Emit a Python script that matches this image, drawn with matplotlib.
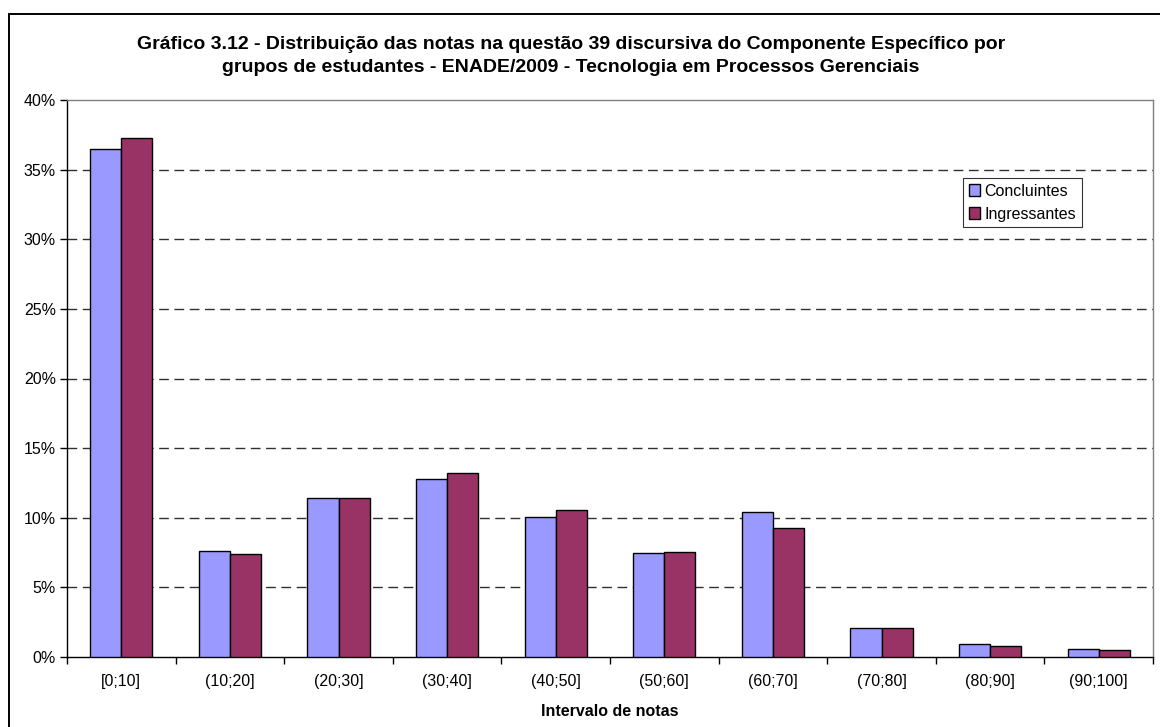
import matplotlib
matplotlib.use("Agg")
import matplotlib.pyplot as plt
from matplotlib.patches import Rectangle
from matplotlib.ticker import FuncFormatter, FixedLocator
import numpy as np

plt.rcParams['font.family'] = ['Liberation Sans', 'DejaVu Sans']
plt.rcParams['lines.scale_dashes'] = False

# notas por intervalo (% de estudantes)
intervalos = ['[0;10]', '(10;20]', '(20;30]', '(30;40]', '(40;50]',
              '(50;60]', '(60;70]', '(70;80]', '(80;90]', '(90;100]']
concluintes = [36.5, 7.6, 11.4, 12.8, 10.05, 7.5, 10.4, 2.1, 0.95, 0.6]
ingressantes = [37.3, 7.4, 11.45, 13.2, 10.55, 7.55, 9.25, 2.05, 0.78, 0.47]
yticks = [0, 5, 10, 15, 20, 25, 30, 35, 40]

titulo = ("Gráfico 3.12 - Distribuição das notas na questão 39 discursiva do Componente Específico por\n"
          "grupos de estudantes - ENADE/2009 - Tecnologia em Processos Gerenciais")

cor_conc = '#9999FF'
cor_ingr = '#993366'

W, H = 1160, 727
fig = plt.figure(figsize=(W / 100, H / 100), dpi=100)
ax = fig.add_axes([67 / W, 1 - 657 / H, (1153 - 67) / W, (657 - 100) / H])

# moldura externa do gráfico
fig.patches.append(Rectangle((9 / W, -0.1), 1.2, 1 - 14 / H + 0.1,
                             transform=fig.transFigure, fill=False,
                             edgecolor='black', linewidth=1.4))

x = np.arange(len(intervalos))
w = 1 / 3.5
ax.bar(x - w / 2, concluintes, w, color=cor_conc, edgecolor='black',
       linewidth=1.0, label='Concluintes', zorder=3)
ax.bar(x + w / 2, ingressantes, w, color=cor_ingr, edgecolor='black',
       linewidth=1.0, label='Ingressantes', zorder=3)

ax.set_xlim(-0.5, len(intervalos) - 0.5)
ax.set_ylim(0, 40)

for v in yticks[1:-1]:
    ax.axhline(v, color='#303030', linewidth=1.0, linestyle=(0, (7, 4)), zorder=1)

ax.set_yticks(yticks)
ax.yaxis.set_major_formatter(FuncFormatter(lambda v, p: '%d%%' % v))
ax.tick_params(axis='y', direction='out', length=5, width=1, labelsize=11.5, pad=3)

ax.set_xticks(x)
ax.set_xticklabels(intervalos)
ax.xaxis.set_minor_locator(FixedLocator(np.arange(-0.5, len(intervalos), 1)))
ax.tick_params(axis='x', which='major', length=0, labelsize=11.5, pad=12)
ax.tick_params(axis='x', which='minor', direction='out', length=5, width=1)

ax.spines['left'].set_color('black')
ax.spines['bottom'].set_color('black')
ax.spines['top'].set_color('#808080')
ax.spines['right'].set_color('#808080')
for s in ax.spines.values():
    s.set_linewidth(1.0)

ax.set_xlabel('Intervalo de notas', fontsize=11.5, fontweight='bold', labelpad=11)

fig.text(571 / W, 1 - 56 / H, titulo, ha='center', va='center',
         fontsize=14, fontweight='bold', linespacing=1.4)

leg = ax.legend(loc='upper left', bbox_to_anchor=(963 / W, 1 - 178 / H),
                bbox_transform=fig.transFigure, fontsize=11.5, frameon=True,
                fancybox=False, borderpad=0.35, handlelength=0.7,
                handleheight=0.7, handletextpad=0.3, labelspacing=0.5,
                borderaxespad=0)
leg.get_frame().set_edgecolor('black')
leg.get_frame().set_linewidth(0.8)

fig.savefig('out.png', dpi=100)
